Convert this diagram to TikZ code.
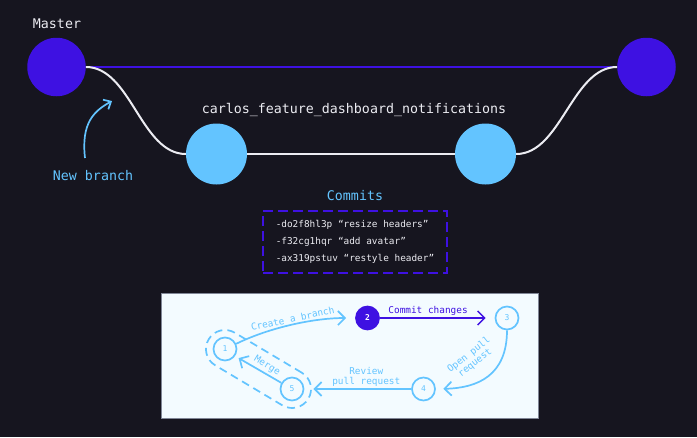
\documentclass[tikz,border=0pt]{standalone}
\usepackage{fontspec}
\setmainfont{DejaVu Sans Mono}
\usetikzlibrary{arrows.meta,positioning}

\definecolor{nightbg}{RGB}{22,21,31}
\definecolor{masterblue}{RGB}{62,17,226}
\definecolor{branchblue}{RGB}{99,196,255}
\definecolor{softwhite}{RGB}{236,236,242}
\definecolor{panelbg}{RGB}{243,251,255}
\definecolor{panelline}{RGB}{128,134,150}

\tikzset{
  masternode/.style={circle, fill=masterblue, minimum size=58.5pt, inner sep=0pt},
  branchnode/.style={circle, fill=branchblue, minimum size=61pt, inner sep=0pt},
  biglabel/.style={font=\fontsize{13.3}{16}\selectfont, anchor=base},
  stepdot/.style={circle, draw=branchblue, line width=1.7pt, minimum size=23pt, inner sep=0pt,
    text=branchblue, font=\fontsize{8}{9}\selectfont},
  flow/.style={draw=branchblue, line width=1.7pt, -{Straight Barb[length=7pt,width=14pt]}},
  flowlabel/.style={text=branchblue, font=\fontsize{9.4}{10}\selectfont, inner sep=1.5pt},
}

\begin{document}
\begin{tikzpicture}[x=1pt,y=-1pt]
\fill[nightbg] (0,0) rectangle (697,437);
\useasboundingbox (0,0) rectangle (697,437);

% Master
\node[masternode] (m1) at (56.5,67) {};
\node[masternode] (m2) at (646.5,67) {};
\node[biglabel, text=softwhite] (masterlbl) at (57,28) {Master};
\draw[masterblue, line width=2pt] (m1.east) -- (m2.west);

% feature branch
\node[branchnode] (b1) at (216.5,154) {};
\node[branchnode] (b2) at (485.5,154) {};
\node[biglabel, text=softwhite] (branchlbl) at (354,113) {carlos\_feature\_dashboard\_notifications};
\draw[softwhite, line width=2pt] (m1.east) .. controls +(45,0) and +(-45,0) .. (b1.west);
\draw[softwhite, line width=2pt] (b1.east) -- (b2.west);
\draw[softwhite, line width=2pt] (b2.east) .. controls +(45,0) and +(-45,0) .. (m2.west);

% New branch
\coordinate (nbtail) at (85,158);
\coordinate (nbhead) at (112,101);
\draw[branchblue, line width=1.7pt, -{Straight Barb[length=6pt,width=11pt]}]
  (nbtail) .. controls +(-4,-35) and +(-18,10) .. (nbhead);
\node[biglabel, text=branchblue] (nblbl) at (93,180) {New branch};

% Commits
\node[biglabel, text=branchblue] (commitslbl) at (355,200.5) {Commits};
\node[draw=masterblue, line width=2pt, dash pattern=on 10pt off 5pt, text=softwhite,
  minimum width=184pt, minimum height=62pt, align=left, font=\fontsize{9.4}{17}\selectfont]
  (log) at (355,242) {-do2f8hl3p “resize headers”\\-f32cg1hqr “add avatar”\\-ax319pstuv “restyle header”};

% workflow panel
\draw[panelline, fill=panelbg, line width=1pt] (161.5,293.5) rectangle (538.5,418.5);
\node[draw=branchblue, line width=1.7pt, dash pattern=on 8pt off 5pt, rounded corners=18.9pt,
  minimum width=116pt, minimum height=38pt, rotate=-30.8] (mergezone) at (258.5,369) {};

\node[stepdot] (s1) at (225,349) {1};
\node[stepdot, fill=masterblue, draw=masterblue, text=white,
  font=\bfseries\fontsize{8}{9}\selectfont] (s2) at (367.5,318) {2};
\node[stepdot] (s3) at (507,318) {3};
\node[stepdot] (s4) at (423.5,389) {4};
\node[stepdot] (s5) at (292,389) {5};

\draw[flow, shorten >=9pt] (s1.25) .. controls +(35,-17) and +(-40,0) .. (s2.west)
  node[midway, sloped, above, flowlabel] {Create a branch};
\draw[flow, draw=masterblue, line width=1.5pt, shorten >=9pt] (s2.east) -- (s3.west)
  node[pos=0.42, above, flowlabel, text=masterblue] {Commit changes};
\draw[flow, shorten >=7.5pt] (s3.south) .. controls +(0,45) and +(42,-1) .. (s4.east);
\node[flowlabel, rotate=38, align=center] (openlbl) at (472,359) {Open pull\\request};
\draw[flow, shorten >=9pt] (s4.west) -- (s5.east)
  node[pos=0.42, above, flowlabel, align=center] {Review\\pull request};
\draw[flow, shorten >=4pt] (s5.150) -- (s1.-35);
\node[flowlabel, rotate=-31] (mergelbl) at (267,366) {Merge};
\end{tikzpicture}
\end{document}
